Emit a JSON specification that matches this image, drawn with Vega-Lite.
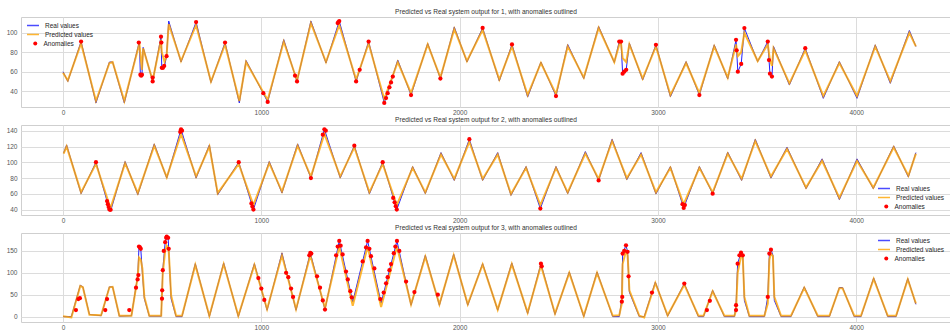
{
  "$schema": "https://vega.github.io/schema/vega-lite/v6.json",
  "padding": {"top": 8, "left": 5, "right": 0, "bottom": 0},
  "background": "white",
  "datasets": {
    "s1": [
      {"x":0,"real":60,"pred":59},{"x":24,"real":50,"pred":51},{"x":91,"real":91,"pred":89},{"x":166,"real":28,"pred":30},{"x":234,"real":70,"pred":69},{"x":250,"real":70,"pred":70},{"x":309,"real":28,"pred":30},{"x":385,"real":91,"pred":89},{"x":390,"real":57,"pred":78},{"x":398,"real":57,"pred":62},{"x":404,"real":85,"pred":84},{"x":452,"real":50,"pred":51},{"x":494,"real":96,"pred":93},{"x":498,"real":64,"pred":80},{"x":512,"real":66,"pred":70},{"x":522,"real":76,"pred":76},{"x":533,"real":112,"pred":109},{"x":595,"real":70,"pred":71},{"x":671,"real":111,"pred":108},{"x":746,"real":49,"pred":50},{"x":817,"real":90,"pred":88},{"x":889,"real":28,"pred":30},{"x":923,"real":71.5,"pred":70},{"x":1032,"real":29,"pred":31},{"x":1113,"real":93,"pred":91},{"x":1180,"real":50,"pred":51},{"x":1250,"real":112,"pred":110},{"x":1326,"real":69,"pred":70},{"x":1393,"real":112,"pred":108},{"x":1478,"real":50,"pred":52},{"x":1541,"real":91,"pred":89},{"x":1620,"real":28,"pred":32},{"x":1688,"real":72,"pred":70},{"x":1755,"real":36,"pred":38},{"x":1839,"real":89,"pred":88},{"x":1903,"real":53,"pred":54},{"x":1973,"real":106,"pred":104},{"x":2037,"real":70,"pred":71},{"x":2116,"real":105,"pred":103},{"x":2200,"real":50.5,"pred":52},{"x":2264,"real":88,"pred":86},{"x":2343,"real":34,"pred":36},{"x":2410,"real":70,"pred":69},{"x":2486,"real":35,"pred":37},{"x":2545,"real":88,"pred":86},{"x":2626,"real":53,"pred":54},{"x":2701,"real":106.5,"pred":105},{"x":2780,"real":69.5,"pred":70},{"x":2805,"real":91,"pred":88},{"x":2814,"real":91,"pred":89},{"x":2822,"real":58,"pred":74},{"x":2840,"real":62,"pred":70},{"x":2856,"real":89.4,"pred":88},{"x":2923,"real":51.5,"pred":53},{"x":2990,"real":87.6,"pred":86},{"x":3063,"real":34.3,"pred":36},{"x":3142,"real":70.4,"pred":69},{"x":3209,"real":36,"pred":38},{"x":3284,"real":87.6,"pred":86},{"x":3352,"real":52.6,"pred":54},{"x":3394,"real":92.8,"pred":88},{"x":3403,"real":60,"pred":76},{"x":3420,"real":68,"pred":80},{"x":3436,"real":104.8,"pred":100},{"x":3503,"real":70.4,"pred":71},{"x":3554,"real":91,"pred":88},{"x":3565,"real":58,"pred":72},{"x":3575,"real":55,"pred":66},{"x":3583,"real":86,"pred":84},{"x":3663,"real":46.4,"pred":48},{"x":3743,"real":84.2,"pred":82},{"x":3834,"real":32.7,"pred":35},{"x":3915,"real":70.4,"pred":69},{"x":4004,"real":32.7,"pred":35},{"x":4096,"real":87.6,"pred":86},{"x":4172,"real":48.1,"pred":50},{"x":4268,"real":102.4,"pred":100},{"x":4301,"real":85.9,"pred":86}
    ],
    "a1": [
      {"x":91,"y":91},{"x":382,"y":90},{"x":390,"y":57},{"x":394,"y":56},{"x":398,"y":57},{"x":452,"y":50},{"x":452,"y":54},{"x":494,"y":96},{"x":496,"y":90},{"x":498,"y":64},{"x":504,"y":64},{"x":510,"y":66},{"x":522,"y":76},{"x":671,"y":111},{"x":817,"y":90},{"x":1010,"y":38},{"x":1032,"y":29},{"x":1170,"y":56},{"x":1180,"y":50},{"x":1385,"y":110},{"x":1389,"y":111},{"x":1393,"y":112},{"x":1478,"y":50},{"x":1496,"y":62},{"x":1541,"y":91},{"x":1620,"y":28},{"x":1629,"y":33},{"x":1637,"y":38},{"x":1646,"y":44},{"x":1654,"y":49},{"x":1663,"y":55},{"x":1755,"y":36},{"x":1903,"y":53},{"x":2116,"y":105},{"x":2264,"y":88},{"x":2486,"y":35},{"x":2805,"y":91},{"x":2814,"y":91},{"x":2822,"y":58},{"x":2830,"y":60},{"x":2840,"y":62},{"x":2990,"y":87.6},{"x":3209,"y":36},{"x":3394,"y":92.8},{"x":3397,"y":82},{"x":3403,"y":60},{"x":3420,"y":68},{"x":3436,"y":104.8},{"x":3554,"y":91},{"x":3560,"y":72},{"x":3565,"y":58},{"x":3575,"y":55},{"x":3743,"y":84.2}
    ],
    "s2": [
      {"x":3,"real":111.6,"pred":111},{"x":18,"real":122,"pred":120},{"x":91,"real":60.4,"pred":62},{"x":166,"real":100.2,"pred":98},{"x":234,"real":40.3,"pred":46},{"x":242,"real":40,"pred":44},{"x":313,"real":101,"pred":99},{"x":377,"real":59.1,"pred":61},{"x":460,"real":123.3,"pred":121},{"x":523,"real":80.1,"pred":81},{"x":595,"real":141.8,"pred":136},{"x":671,"real":80.1,"pred":82},{"x":738,"real":122,"pred":120},{"x":780,"real":59.1,"pred":61},{"x":886,"real":100.2,"pred":98},{"x":960,"real":40.3,"pred":46},{"x":1040,"real":101,"pred":99},{"x":1104,"real":61.2,"pred":63},{"x":1183,"real":123.3,"pred":121},{"x":1250,"real":80.1,"pred":82},{"x":1318,"real":141.8,"pred":136},{"x":1398,"real":80.1,"pred":82},{"x":1469,"real":121.1,"pred":119},{"x":1545,"real":60,"pred":62},{"x":1612,"real":100.2,"pred":98},{"x":1683,"real":40.3,"pred":46},{"x":1763,"real":94.7,"pred":93},{"x":1827,"real":60.4,"pred":62},{"x":1906,"real":112.3,"pred":110},{"x":1973,"real":77.1,"pred":79},{"x":2049,"real":129.2,"pred":126},{"x":2116,"real":77.1,"pred":79},{"x":2192,"real":112.3,"pred":110},{"x":2259,"real":58.2,"pred":60},{"x":2335,"real":94.7,"pred":93},{"x":2407,"real":41.5,"pred":46},{"x":2486,"real":94.7,"pred":93},{"x":2545,"real":60.4,"pred":62},{"x":2634,"real":113.6,"pred":111},{"x":2701,"real":77.1,"pred":79},{"x":2769,"real":129.2,"pred":127},{"x":2843,"real":78,"pred":80},{"x":2915,"real":112.3,"pred":110},{"x":2990,"real":60,"pred":62},{"x":3063,"real":94.7,"pred":93},{"x":3130,"real":42.4,"pred":47},{"x":3209,"real":94.7,"pred":93},{"x":3276,"real":60.4,"pred":62},{"x":3352,"real":112.8,"pred":111},{"x":3422,"real":77.1,"pred":79},{"x":3491,"real":129.2,"pred":127},{"x":3570,"real":80.1,"pred":82},{"x":3651,"real":119.1,"pred":117},{"x":3747,"real":66.7,"pred":68},{"x":3828,"real":104.4,"pred":102},{"x":3915,"real":52.8,"pred":55},{"x":4004,"real":104.4,"pred":102},{"x":4086,"real":66.7,"pred":68},{"x":4189,"real":120.8,"pred":119},{"x":4263,"real":81.4,"pred":83},{"x":4301,"real":112.3,"pred":111}
    ],
    "a2": [
      {"x":166,"y":100.2},{"x":222,"y":51},{"x":226,"y":47},{"x":230,"y":43.5},{"x":234,"y":40.3},{"x":240,"y":40},{"x":591,"y":138.5},{"x":595,"y":141.8},{"x":600,"y":140},{"x":886,"y":100.2},{"x":950,"y":48},{"x":955,"y":44},{"x":960,"y":40.3},{"x":1250,"y":80.1},{"x":1310,"y":135},{"x":1318,"y":141.8},{"x":1325,"y":140},{"x":1469,"y":121.1},{"x":1612,"y":100.2},{"x":1665,"y":55},{"x":1672,"y":49.5},{"x":1678,"y":44.5},{"x":1683,"y":40.3},{"x":2049,"y":129.2},{"x":2407,"y":41.5},{"x":2701,"y":77.1},{"x":3124,"y":47},{"x":3130,"y":42.4},{"x":3136,"y":46},{"x":3276,"y":60.4}
    ],
    "s3": [
      {"x":0,"real":0,"pred":1},{"x":42,"real":0,"pred":-2},{"x":87,"real":71.7,"pred":70},{"x":100,"real":68,"pred":67},{"x":133,"real":5,"pred":4},{"x":192,"real":2,"pred":3},{"x":234,"real":68,"pred":67},{"x":250,"real":68,"pred":68},{"x":284,"real":1,"pred":2},{"x":345,"real":2,"pred":2},{"x":377,"real":94.5,"pred":92},{"x":383,"real":160,"pred":135},{"x":392,"real":155,"pred":130},{"x":400,"real":100,"pred":110},{"x":410,"real":41,"pred":45},{"x":435,"real":1,"pred":2},{"x":495,"real":1,"pred":2},{"x":503,"real":106,"pred":100},{"x":515,"real":170,"pred":150},{"x":523,"real":183,"pred":162},{"x":530,"real":180,"pred":158},{"x":533,"real":155,"pred":150},{"x":545,"real":41,"pred":48},{"x":570,"real":0,"pred":2},{"x":600,"real":0,"pred":2},{"x":667,"real":121,"pred":118},{"x":738,"real":0,"pred":2},{"x":810,"real":122.6,"pred":120},{"x":884,"real":0,"pred":2},{"x":965,"real":121,"pred":118},{"x":1029,"real":14.6,"pred":17},{"x":1104,"real":145.5,"pred":140},{"x":1175,"real":14.6,"pred":17},{"x":1247,"real":145.5,"pred":140},{"x":1321,"real":16,"pred":19},{"x":1393,"real":173,"pred":160},{"x":1461,"real":33.6,"pred":25},{"x":1536,"real":173,"pred":160},{"x":1604,"real":31,"pred":22},{"x":1684,"real":173,"pred":160},{"x":1755,"real":26,"pred":28},{"x":1827,"real":140,"pred":137},{"x":1898,"real":26,"pred":28},{"x":1970,"real":142.5,"pred":140},{"x":2041,"real":26,"pred":28},{"x":2116,"real":121,"pred":119},{"x":2192,"real":14.6,"pred":16},{"x":2263,"real":122.6,"pred":120},{"x":2343,"real":7,"pred":9},{"x":2410,"real":121,"pred":117},{"x":2481,"real":5,"pred":7},{"x":2553,"real":102,"pred":100},{"x":2626,"real":0,"pred":2},{"x":2693,"real":102,"pred":100},{"x":2772,"real":0,"pred":2},{"x":2805,"real":0,"pred":3},{"x":2818,"real":40,"pred":30},{"x":2822,"real":144,"pred":120},{"x":2839,"real":163,"pred":150},{"x":2847,"real":148,"pred":140},{"x":2852,"real":92,"pred":100},{"x":2856,"real":56,"pred":60},{"x":2906,"real":0,"pred":2},{"x":2931,"real":0,"pred":-2},{"x":2987,"real":79,"pred":77},{"x":3049,"real":1,"pred":3},{"x":3133,"real":75.6,"pred":73},{"x":3204,"real":0,"pred":2},{"x":3230,"real":0,"pred":2},{"x":3276,"real":60,"pred":58},{"x":3335,"real":0,"pred":2},{"x":3386,"real":0,"pred":2},{"x":3394,"real":26,"pred":15},{"x":3402,"real":121,"pred":100},{"x":3419,"real":146,"pred":138},{"x":3428,"real":140,"pred":135},{"x":3436,"real":37,"pred":45},{"x":3461,"real":0,"pred":2},{"x":3537,"real":0,"pred":2},{"x":3554,"real":45,"pred":30},{"x":3562,"real":144,"pred":130},{"x":3570,"real":153,"pred":145},{"x":3580,"real":140,"pred":138},{"x":3587,"real":37,"pred":45},{"x":3621,"real":0,"pred":2},{"x":3671,"real":0,"pred":2},{"x":3738,"real":68,"pred":66},{"x":3806,"real":0,"pred":2},{"x":3865,"real":0,"pred":2},{"x":3915,"real":66.4,"pred":65},{"x":3931,"real":66.4,"pred":65},{"x":3990,"real":0,"pred":2},{"x":4024,"real":0,"pred":2},{"x":4088,"real":88.4,"pred":86},{"x":4159,"real":0,"pred":2},{"x":4201,"real":0,"pred":2},{"x":4260,"real":87,"pred":85},{"x":4301,"real":28,"pred":30}
    ],
    "a3": [
      {"x":65,"y":15},{"x":77,"y":40},{"x":85,"y":42},{"x":213,"y":15},{"x":222,"y":40},{"x":334,"y":15},{"x":368,"y":66},{"x":376,"y":85},{"x":380,"y":95},{"x":383,"y":160},{"x":388,"y":158},{"x":392,"y":155},{"x":499,"y":41},{"x":500,"y":60},{"x":503,"y":106},{"x":508,"y":150},{"x":515,"y":170},{"x":520,"y":180},{"x":523,"y":183},{"x":530,"y":180},{"x":533,"y":155},{"x":985,"y":88},{"x":1000,"y":64},{"x":1015,"y":38},{"x":1125,"y":100},{"x":1136,"y":90},{"x":1150,"y":64},{"x":1160,"y":45},{"x":1242,"y":140},{"x":1247,"y":145.5},{"x":1252,"y":144},{"x":1281,"y":92},{"x":1296,"y":66},{"x":1310,"y":37},{"x":1321,"y":16},{"x":1377,"y":140},{"x":1385,"y":160},{"x":1393,"y":173},{"x":1400,"y":162},{"x":1410,"y":142},{"x":1427,"y":103},{"x":1436,"y":85},{"x":1449,"y":58},{"x":1456,"y":44},{"x":1511,"y":126},{"x":1528,"y":158},{"x":1536,"y":173},{"x":1545,"y":155},{"x":1553,"y":138},{"x":1570,"y":110},{"x":1600,"y":40},{"x":1617,"y":55},{"x":1629,"y":76},{"x":1637,"y":90},{"x":1646,"y":106},{"x":1654,"y":120},{"x":1668,"y":145},{"x":1676,"y":160},{"x":1684,"y":173},{"x":1696,"y":150},{"x":1730,"y":80},{"x":1772,"y":56},{"x":1890,"y":50},{"x":2410,"y":121},{"x":2414,"y":115},{"x":2818,"y":34},{"x":2820,"y":45},{"x":2822,"y":144},{"x":2830,"y":150},{"x":2839,"y":163},{"x":2847,"y":148},{"x":2852,"y":92},{"x":2970,"y":55},{"x":3133,"y":75.6},{"x":3247,"y":15},{"x":3262,"y":36},{"x":3394,"y":15},{"x":3394,"y":26},{"x":3402,"y":121},{"x":3411,"y":140},{"x":3419,"y":146},{"x":3428,"y":140},{"x":3554,"y":45},{"x":3562,"y":144},{"x":3570,"y":153}
    ]
  },
  "vconcat": [
    {
      "title": "Predicted vs Real system output for 1, with anomalies outlined",
      "width": 930,
      "height": 90,
      "encoding": {
        "x": {"field": "x", "type": "quantitative", "scale": {"domain": [-212, 4478], "nice": false, "zero": false}, "axis": {"values": [0, 1000, 2000, 3000, 4000], "format": "d"}}
      },
      "layer": [
        {
          "data": {"name": "s1"},
          "mark": {"type": "line", "strokeWidth": 1, "clip": true},
          "encoding": {
            "y": {"field": "real", "type": "quantitative", "scale": {"domain": [23.8, 116.2], "nice": false, "zero": false}, "axis": {"values": [40, 60, 80, 100]}},
            "color": {"datum": "Real values", "type": "nominal", "scale": {"domain": ["Real values", "Predicted values"], "range": ["#1f1fff", "#ffa500"]}, "legend": {"orient": "none", "legendX": 5, "legendY": 4, "symbolType": "stroke"}}
          }
        },
        {
          "data": {"name": "s1"},
          "mark": {"type": "line", "strokeWidth": 2, "opacity": 0.8, "clip": true},
          "encoding": {
            "y": {"field": "pred", "type": "quantitative", "axis": {"values": [40, 60, 80, 100]}},
            "color": {"datum": "Predicted values", "type": "nominal"}
          }
        },
        {
          "data": {"name": "a1"},
          "mark": {"type": "point", "filled": true, "size": 18, "opacity": 1, "strokeWidth": 0, "clip": true},
          "encoding": {
            "y": {"field": "y", "type": "quantitative", "axis": {"values": [40, 60, 80, 100]}},
            "fill": {"datum": "Anomalies", "type": "nominal", "scale": {"domain": ["Anomalies"], "range": ["#ff0000"]}, "legend": {"orient": "none", "legendX": 11, "legendY": 22, "symbolType": "circle", "symbolSize": 16}}
          }
        }
      ]
    },
    {
      "title": "Predicted vs Real system output for 2, with anomalies outlined",
      "width": 930,
      "height": 90,
      "encoding": {
        "x": {"field": "x", "type": "quantitative", "scale": {"domain": [-212, 4478], "nice": false, "zero": false}, "axis": {"values": [0, 1000, 2000, 3000, 4000], "format": "d"}}
      },
      "layer": [
        {
          "data": {"name": "s2"},
          "mark": {"type": "line", "strokeWidth": 1, "clip": true},
          "encoding": {
            "y": {"field": "real", "type": "quantitative", "scale": {"domain": [33.4, 147.2], "nice": false, "zero": false}, "axis": {"values": [40, 60, 80, 100, 120, 140]}},
            "color": {"datum": "Real values", "type": "nominal", "scale": {"domain": ["Real values", "Predicted values"], "range": ["#1f1fff", "#ffa500"]}, "legend": {"orient": "none", "legendX": 856, "legendY": 59, "symbolType": "stroke"}}
          }
        },
        {
          "data": {"name": "s2"},
          "mark": {"type": "line", "strokeWidth": 2, "opacity": 0.8, "clip": true},
          "encoding": {
            "y": {"field": "pred", "type": "quantitative", "axis": {"values": [40, 60, 80, 100, 120, 140]}},
            "color": {"datum": "Predicted values", "type": "nominal"}
          }
        },
        {
          "data": {"name": "a2"},
          "mark": {"type": "point", "filled": true, "size": 18, "opacity": 1, "strokeWidth": 0, "clip": true},
          "encoding": {
            "y": {"field": "y", "type": "quantitative", "axis": {"values": [40, 60, 80, 100, 120, 140]}},
            "fill": {"datum": "Anomalies", "type": "nominal", "scale": {"domain": ["Anomalies"], "range": ["#ff0000"]}, "legend": {"orient": "none", "legendX": 862, "legendY": 77, "symbolType": "circle", "symbolSize": 16}}
          }
        }
      ]
    },
    {
      "title": "Predicted vs Real system output for 3, with anomalies outlined",
      "width": 930,
      "height": 89,
      "encoding": {
        "x": {"field": "x", "type": "quantitative", "scale": {"domain": [-212, 4478], "nice": false, "zero": false}, "axis": {"values": [0, 1000, 2000, 3000, 4000], "format": "d"}}
      },
      "layer": [
        {
          "data": {"name": "s3"},
          "mark": {"type": "line", "strokeWidth": 1, "clip": true},
          "encoding": {
            "y": {"field": "real", "type": "quantitative", "scale": {"domain": [-12.3, 191], "nice": false, "zero": false}, "axis": {"values": [0, 50, 100, 150]}},
            "color": {"datum": "Real values", "type": "nominal", "scale": {"domain": ["Real values", "Predicted values"], "range": ["#1f1fff", "#ffa500"]}, "legend": {"orient": "none", "legendX": 856, "legendY": 3, "symbolType": "stroke"}}
          }
        },
        {
          "data": {"name": "s3"},
          "mark": {"type": "line", "strokeWidth": 2, "opacity": 0.8, "clip": true},
          "encoding": {
            "y": {"field": "pred", "type": "quantitative", "axis": {"values": [0, 50, 100, 150]}},
            "color": {"datum": "Predicted values", "type": "nominal"}
          }
        },
        {
          "data": {"name": "a3"},
          "mark": {"type": "point", "filled": true, "size": 18, "opacity": 1, "strokeWidth": 0, "clip": true},
          "encoding": {
            "y": {"field": "y", "type": "quantitative", "axis": {"values": [0, 50, 100, 150]}},
            "fill": {"datum": "Anomalies", "type": "nominal", "scale": {"domain": ["Anomalies"], "range": ["#ff0000"]}, "legend": {"orient": "none", "legendX": 862, "legendY": 21, "symbolType": "circle", "symbolSize": 16}}
          }
        }
      ]
    }
  ],
  "spacing": 18,
  "bounds": "flush",
  "resolve": {
    "scale": {"x": "independent", "y": "independent", "color": "independent", "fill": "independent"},
    "legend": {"color": "independent", "fill": "independent"}
  },
  "config": {
    "font": "Liberation Sans",
    "view": {"stroke": "#cfcfcf", "strokeWidth": 1},
    "title": {"fontSize": 6.6, "fontWeight": "normal", "color": "#333333", "offset": 1, "anchor": "middle"},
    "axis": {"domain": false, "ticks": false, "grid": true, "gridColor": "#dcdcdc", "gridWidth": 1, "labelFontSize": 6.5, "labelColor": "#555555", "title": null, "labelFlush": false, "labelOverlap": false},
    "axisX": {"labelPadding": 2},
    "axisY": {"labelPadding": 4},
    "legend": {"title": null, "labelFontSize": 6.5, "labelColor": "#262626", "symbolSize": 144, "symbolStrokeWidth": 1.5, "rowPadding": 0, "clipHeight": 9, "padding": 0, "labelOffset": 5}
  }
}
